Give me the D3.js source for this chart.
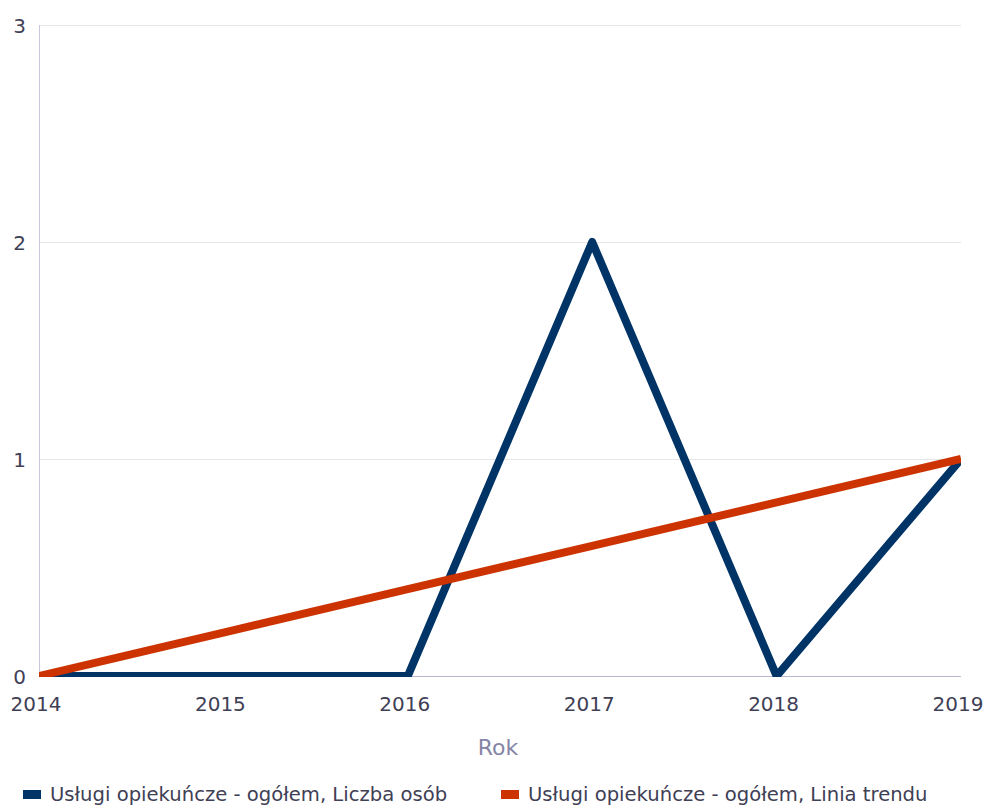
<!DOCTYPE html>
<html><head><meta charset="utf-8">
<script src="https://cdn.jsdelivr.net/npm/d3@7"></script>
<style>
html,body{margin:0;padding:0;background:#fff;}
text{font-family:"DejaVu Sans",sans-serif;}
</style></head>
<body><svg id="c" width="984" height="806"></svg>
<script>
const years = [2014, 2015, 2016, 2017, 2018, 2019];
const liczbaOsob = [0, 0, 0, 2, 0, 1];
const liniaTrendu = [0, 0.2, 0.4, 0.6, 0.8, 1];
const yTicks = [0, 1, 2, 3];
const seriesNames = ["Usługi opiekuńcze - ogółem, Liczba osób", "Usługi opiekuńcze - ogółem, Linia trendu"];
const colors = ["#003366", "#cc3300"];
const xTitle = "Rok";

const svg = d3.select("#c");
const x = d3.scaleLinear().domain([2014, 2019]).range([39, 961]);
const y = d3.scaleLinear().domain([0, 3]).range([676, 25]);

// gridlines
svg.append("g").selectAll("line").data(yTicks.filter(d => d > 0)).join("line")
  .attr("x1", 39).attr("x2", 961)
  .attr("y1", d => Math.round(y(d)) + 0.5).attr("y2", d => Math.round(y(d)) + 0.5)
  .attr("stroke", "#e6e6ea").attr("stroke-width", 1);

// axes lines
svg.append("line").attr("x1", 39.5).attr("x2", 39.5).attr("y1", 25).attr("y2", 677)
  .attr("stroke", "#c8c8dc").attr("stroke-width", 1);
svg.append("line").attr("x1", 39).attr("x2", 961).attr("y1", 676.5).attr("y2", 676.5)
  .attr("stroke", "#b8b8d0").attr("stroke-width", 1);

// y tick labels
svg.append("g").selectAll("text").data(yTicks).join("text")
  .attr("x", 26).attr("y", d => y(d) + 8)
  .attr("text-anchor", "end").attr("font-size", 20).attr("fill", "#404055")
  .text(d => d);

// x tick labels
svg.append("g").selectAll("text").data(years).join("text")
  .attr("x", d => x(d) - 3).attr("y", 711)
  .attr("text-anchor", "middle").attr("font-size", 20).attr("fill", "#404055")
  .text(d => d);

svg.append("text").attr("x", 498).attr("y", 755).attr("text-anchor", "middle")
  .attr("font-size", 22).attr("fill", "#8585a5").text(xTitle);

const line = d3.line().x((d, i) => x(years[i])).y(d => y(d));
svg.append("clipPath").attr("id", "clip").append("rect")
  .attr("x", 39).attr("y", 0).attr("width", 922).attr("height", 677);

svg.append("path").datum(liczbaOsob).attr("d", line)
  .attr("fill", "none").attr("stroke", colors[0]).attr("stroke-width", 8)
  .attr("stroke-linejoin", "round").attr("clip-path", "url(#clip)");
svg.append("path").datum(liniaTrendu).attr("d", line)
  .attr("fill", "none").attr("stroke", colors[1]).attr("stroke-width", 8)
  .attr("clip-path", "url(#clip)");

// legend
const legX = [23, 501];
const lg = svg.append("g").selectAll("g").data(seriesNames).join("g")
  .attr("transform", (d, i) => `translate(${legX[i]},0)`);
lg.append("rect").attr("x", 0).attr("y", 790).attr("width", 18).attr("height", 9)
  .attr("fill", (d, i) => colors[i]);
lg.append("text").attr("x", 27).attr("y", 801).attr("font-size", 19.6).attr("fill", "#404055")
  .text(d => d);
</script></body></html>
